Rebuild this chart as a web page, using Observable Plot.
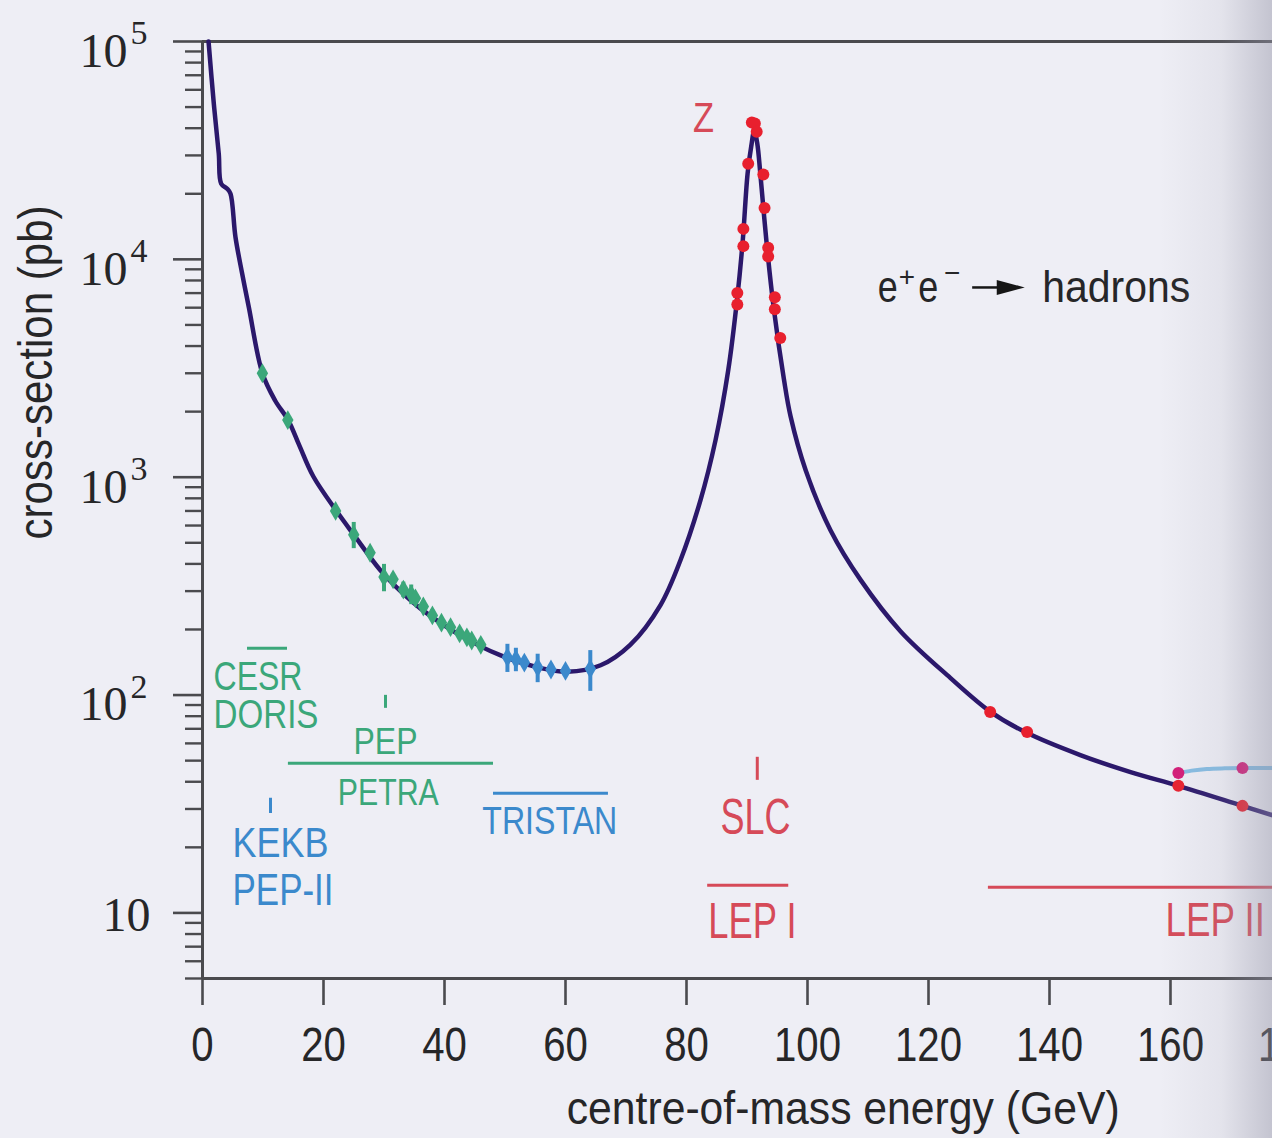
<!DOCTYPE html>
<html>
<head>
<meta charset="utf-8">
<script src="https://cdn.jsdelivr.net/npm/d3@7"></script>
<script src="https://cdn.jsdelivr.net/npm/@observablehq/plot@0.6"></script>
<style>
  html, body { margin: 0; padding: 0; background: #eeeef5; overflow: hidden; width: 1272px; height: 1138px; }
  #chart { position: absolute; left: 0; top: 0; width: 1412px; }
  #shade { position: absolute; left: 1160px; top: 0; width: 112px; height: 1138px; pointer-events: none;
    background: linear-gradient(to right, rgba(150,150,168,0) 0%, rgba(150,150,168,0.12) 55%, rgba(150,150,168,0.48) 100%); }
</style>
</head>
<body>
<div id="chart"></div>
<div id="shade"></div>
<script>
// ---------------- data ----------------
// theory curve: centre-of-mass energy (GeV) and cross-section (pb)
const curveE = [1.0, 1.87, 2.69, 3.09, 4.08, 4.63, 5.45, 6.56, 7.65, 9.9, 12.0, 14.2, 16.0, 18.3, 22.3, 25.0, 29.4, 33.0, 36.0, 42.6, 49.3, 55.9, 60.3, 65.8, 70.7, 75.7, 79.0, 82.3, 84.8, 86.9, 88.4, 89.3, 90.1, 90.7, 91.2, 91.7, 92.2, 93.2, 94.4, 96.1, 97.2, 99.7, 103.8, 108.8, 115.4, 123.6, 130.2, 136.0, 145.1, 153.4, 161.3, 171.6, 177.0];
const curveSigma = [100000, 51800, 30500, 22250, 21100, 20000, 12650, 8590, 6040, 3000, 2250, 1820, 1400, 1010, 690, 545, 374, 295, 250, 188, 152, 133, 128, 137, 170, 259, 416, 783, 1480, 3100, 6700, 12200, 24800, 33000, 39000, 34000, 24800, 12200, 6030, 2820, 1905, 1077, 571, 337, 196, 120, 84, 67.6, 53, 44.3, 38.3, 31.2, 28.0];

// CESR / DORIS / PEP / PETRA measurements (green)
const greenE     = [9.9, 14.1, 22.0, 25.0, 27.7, 30.0, 31.5, 33.2, 34.5, 35.2, 36.5, 38.0, 39.5, 41.0, 42.5, 43.7, 44.5, 46.0];
const greenSigma = [3000, 1830, 700, 545, 450, 348, 340, 305, 290, 278, 255, 232, 215, 205, 192, 184, 178, 170];
const greenErr   = [150, 90, 40, 75, 28, 50, 20, 25, 30, 14, 15, 14, 11, 12, 10, 11, 9, 9];

// TRISTAN measurements (blue)
const blueE     = [50.4, 51.8, 53.2, 55.4, 57.6, 60.0, 64.1];
const blueSigma = [149, 146, 141, 134, 131, 129, 132];
const blueErr   = [22, 18, 8, 20, 5, 5, 28];

// SLC / LEP I measurements at the Z (red)
const zE     = [88.4, 88.4, 89.4, 89.4, 90.2, 90.8, 91.3, 91.6, 92.7, 92.9, 93.5, 93.5, 94.6, 94.6, 95.5];
const zSigma = [7000, 6200, 13800, 11500, 27500, 42500, 42000, 38500, 24500, 17200, 11300, 10300, 6700, 5900, 4350];

// LEP II measurements (red) and the upper LEP II series (magenta, light-blue line)
const lepE     = [130.2, 136.3, 161.3, 171.9];
const lepSigma = [83.6, 67.6, 38.3, 31.0];
const lep2E     = [161.3, 171.9];
const lep2Sigma = [43.9, 46.2];
const lep2LineE     = [161.3, 163.5, 166.0, 169.0, 172.0, 177.0];
const lep2LineSigma = [43.9, 45.0, 45.8, 46.1, 46.2, 46.2];

// axes
const xTicks = [0, 20, 40, 60, 80, 100, 120, 140, 160, 180, 200];
const yMajor = [10, 100, 1000, 10000, 100000];
const yMantissa = "10";
const yExponent = ["", "2", "3", "4", "5"];
const yMinor = [5, 6, 7, 8, 9, 20, 30, 40, 50, 60, 70, 80, 90, 200, 300, 400, 500, 600, 700, 800, 900,
  2000, 3000, 4000, 5000, 6000, 7000, 8000, 9000, 20000, 30000, 40000, 50000, 60000, 70000, 80000, 90000];

// ---------------- fonts: condensed look via horizontal squeeze ----------------
const SANS = '"Liberation Sans", Arial, sans-serif';
const SERIF = '"Liberation Serif", "DejaVu Serif", serif';
const mctx = document.createElement("canvas").getContext("2d");
const natW = (t, size) => { mctx.font = `${size}px "Liberation Sans", Arial, sans-serif`; return mctx.measureText(t).width; };
const squeeze = new Map();       // text content -> horizontal scale
const TICK_SIZE = 47.5;
xTicks.forEach(v => squeeze.set(String(v), 67 / natW("100", TICK_SIZE)));

// ---------------- colours ----------------
const AX = "#4a4a4e", TXT = "#262628";
const GREEN = "#3ba77a", BLUE = "#3b89cc", RED = "#d64a58", CURVE = "#2b186b";
const DOT_RED = "#e8202e", DOT_MAG = "#d41c78", LIGHTBLUE = "#86bde3";

const rows = (xs, ys, es) => xs.map((x, i) => ({E: x, s: ys[i], e: es ? es[i] : 0}));
const curve = rows(curveE, curveSigma);
const green = rows(greenE, greenSigma, greenErr);
const blue = rows(blueE, blueSigma, blueErr);
const zPts = rows(zE, zSigma);
const lep = rows(lepE, lepSigma);
const lep2 = rows(lep2E, lep2Sigma);
const lep2Line = rows(lep2LineE, lep2LineSigma);
const expTicks = yMajor.map((v, i) => ({v, e: yExponent[i]})).filter(d => d.e);
const plainTicks = yMajor.map((v, i) => ({v, e: yExponent[i]})).filter(d => !d.e);

const arrowHead = {draw(ctx, size) {
  const r = Math.sqrt(size / Math.PI);
  ctx.moveTo(1.4 * r, 0); ctx.lineTo(-1.4 * r, -0.75 * r); ctx.lineTo(-1.4 * r, 0.75 * r); ctx.closePath();
}};

// label with cap height (px) and target width (px)
function label(t, x, y, color, cap, width, anchor = "middle", extra = {}) {
  const size = cap / 0.716;
  if (width) squeeze.set(t, width / natW(t, size));
  return Plot.text([t], {x: () => x, y: () => y, text: d => d, fill: color, fontSize: size, fontFamily: SANS, textAnchor: anchor, ...extra});
}
const hbar = (y, x1, x2, color) => Plot.ruleY([y], {x1, x2, stroke: color, strokeWidth: 3});
const vtick = (x, y1, y2, color) => Plot.ruleX([x], {y1, y2, stroke: color, strokeWidth: 3});

const yTitle = "cross-section (pb)", xTitle = "centre-of-mass energy (GeV)";
squeeze.set(yTitle, 334 / natW(yTitle, 35 / 0.716));
squeeze.set(xTitle, 553 / natW(xTitle, 33 / 0.716));

const chart = Plot.plot({
  width: 1412, height: 1138,
  marginLeft: 202, marginRight: 0, marginTop: 41, marginBottom: 160,
  style: {background: "transparent", maxWidth: "none", color: TXT, overflow: "visible"},
  x: {domain: [0, 200]},
  y: {type: "log", domain: [5, 1e5]},
  marks: [
    // frame
    Plot.ruleY([1e5], {stroke: AX, strokeWidth: 3}),
    Plot.ruleY([5], {stroke: AX, strokeWidth: 3}),
    Plot.ruleX([0], {stroke: AX, strokeWidth: 3}),
    // y axis ticks
    Plot.axisY(yMinor, {anchor: "left", tickSize: 17, fill: "none", label: null, stroke: AX, strokeWidth: 2.4}),
    Plot.axisY(yMajor, {anchor: "left", tickSize: 29, fill: "none", label: null, stroke: AX, strokeWidth: 2.6}),
    // y tick labels 10^n
    Plot.text(plainTicks, {y: "v", frameAnchor: "left", text: () => yMantissa, textAnchor: "end", dx: -52, dy: 3, fontSize: 48, fontFamily: SERIF, fill: TXT}),
    Plot.text(expTicks, {y: "v", frameAnchor: "left", text: () => yMantissa, textAnchor: "end", dx: -75, dy: 10, fontSize: 48, fontFamily: SERIF, fill: TXT}),
    Plot.text(expTicks, {y: "v", frameAnchor: "left", text: "e", textAnchor: "start", dx: -72, dy: -8, fontSize: 34, fontFamily: SERIF, fill: TXT}),
    // x axis
    Plot.axisX(xTicks, {anchor: "bottom", tickSize: 27, tickPadding: 22, label: null, fontSize: TICK_SIZE, fontFamily: SANS, fill: TXT, stroke: AX, strokeWidth: 2.6}),
    // axis titles
    Plot.text([xTitle], {x: () => 105.9, frameAnchor: "bottom", dy: 113, lineAnchor: "top", fontSize: 33 / 0.716, fontFamily: SANS, fill: TXT}),
    Plot.text([yTitle], {y: () => 518, frameAnchor: "left", dx: -185, rotate: -90, lineAnchor: "top", fontSize: 35 / 0.716, fontFamily: SANS, fill: TXT}),

    // facility annotations
    hbar(163.9, 7.44, 14.05, GREEN),
    label("CESR", 1.82, 120.6, GREEN, 29, 89, "start"),
    label("DORIS", 1.82, 80.7, GREEN, 29, 105, "start"),
    vtick(30.25, 99.7, 86.9, GREEN),
    label("PEP", 30.25, 60.7, GREEN, 26, 64),
    hbar(48.6, 14.2, 48.1, GREEN),
    label("PETRA", 30.7, 35.4, GREEN, 27, 101),
    hbar(35.4, 48.1, 67.1, BLUE),
    label("TRISTAN", 57.4, 26.3, BLUE, 28, 135),
    vtick(11.24, 33.6, 28.6, BLUE),
    label("KEKB", 4.96, 20.9, BLUE, 31, 96, "start"),
    label("PEP-II", 4.96, 12.7, BLUE, 32, 101, "start"),
    vtick(91.7, 51.8, 40.6, RED),
    label("SLC", 91.4, 27.2, RED, 36, 70),
    hbar(13.4, 83.5, 96.9, RED),
    label("LEP I", 90.9, 9.06, RED, 36, 89),
    hbar(13.1, 129.9, 200, RED),
    label("LEP II", 167.4, 9.25, RED, 35, 100),
    label("Z", 82.8, 44320, RED, 31, 21),

    // process label e+e- -> hadrons
    label("e", 111.6, 7430, TXT, 32, 20, "start"),
    label("+", 116.45, 8260, TXT, 20, 0),
    label("e", 118.3, 7430, TXT, 32, 20, "start"),
    label("\u2212", 123.9, 8610, TXT, 20, 0),
    Plot.ruleY([7430], {x1: 127.3, x2: 132.0, stroke: "#161616", strokeWidth: 2.5}),
    Plot.dot([0], {x: () => 133.6, y: () => 7430, r: 10, symbol: arrowHead, fill: "#161616", stroke: "none"}),
    label("hadrons", 138.8, 7430, TXT, 32, 148, "start"),

    // theory curve
    Plot.line(curve, {x: "E", y: "s", stroke: CURVE, strokeWidth: 4.5, curve: "catmull-rom"}),
    Plot.line(lep2Line, {x: "E", y: "s", stroke: LIGHTBLUE, strokeWidth: 4, curve: "catmull-rom"}),

    // measurements
    Plot.ruleX(green, {x: "E", y1: d => d.s - d.e, y2: d => d.s + d.e, stroke: GREEN, strokeWidth: 4}),
    Plot.dot(green, {x: "E", y: "s", r: 6, symbol: "diamond", fill: GREEN}),
    Plot.ruleX(blue, {x: "E", y1: d => d.s - d.e, y2: d => d.s + d.e, stroke: BLUE, strokeWidth: 4}),
    Plot.dot(blue, {x: "E", y: "s", r: 6, symbol: "diamond", fill: BLUE}),
    Plot.dot(zPts, {x: "E", y: "s", r: 6, fill: DOT_RED}),
    Plot.dot(lep, {x: "E", y: "s", r: 6, fill: DOT_RED}),
    Plot.dot(lep2, {x: "E", y: "s", r: 6, fill: DOT_MAG})
  ]
});

// condense sans-serif texts horizontally about their anchor point
chart.querySelectorAll("text").forEach(t => {
  const s = squeeze.get(t.textContent);
  if (s && isFinite(s)) t.setAttribute("transform", (t.getAttribute("transform") || "") + ` scale(${s.toFixed(4)},1)`);
});
document.getElementById("chart").append(chart);
</script>
</body>
</html>
